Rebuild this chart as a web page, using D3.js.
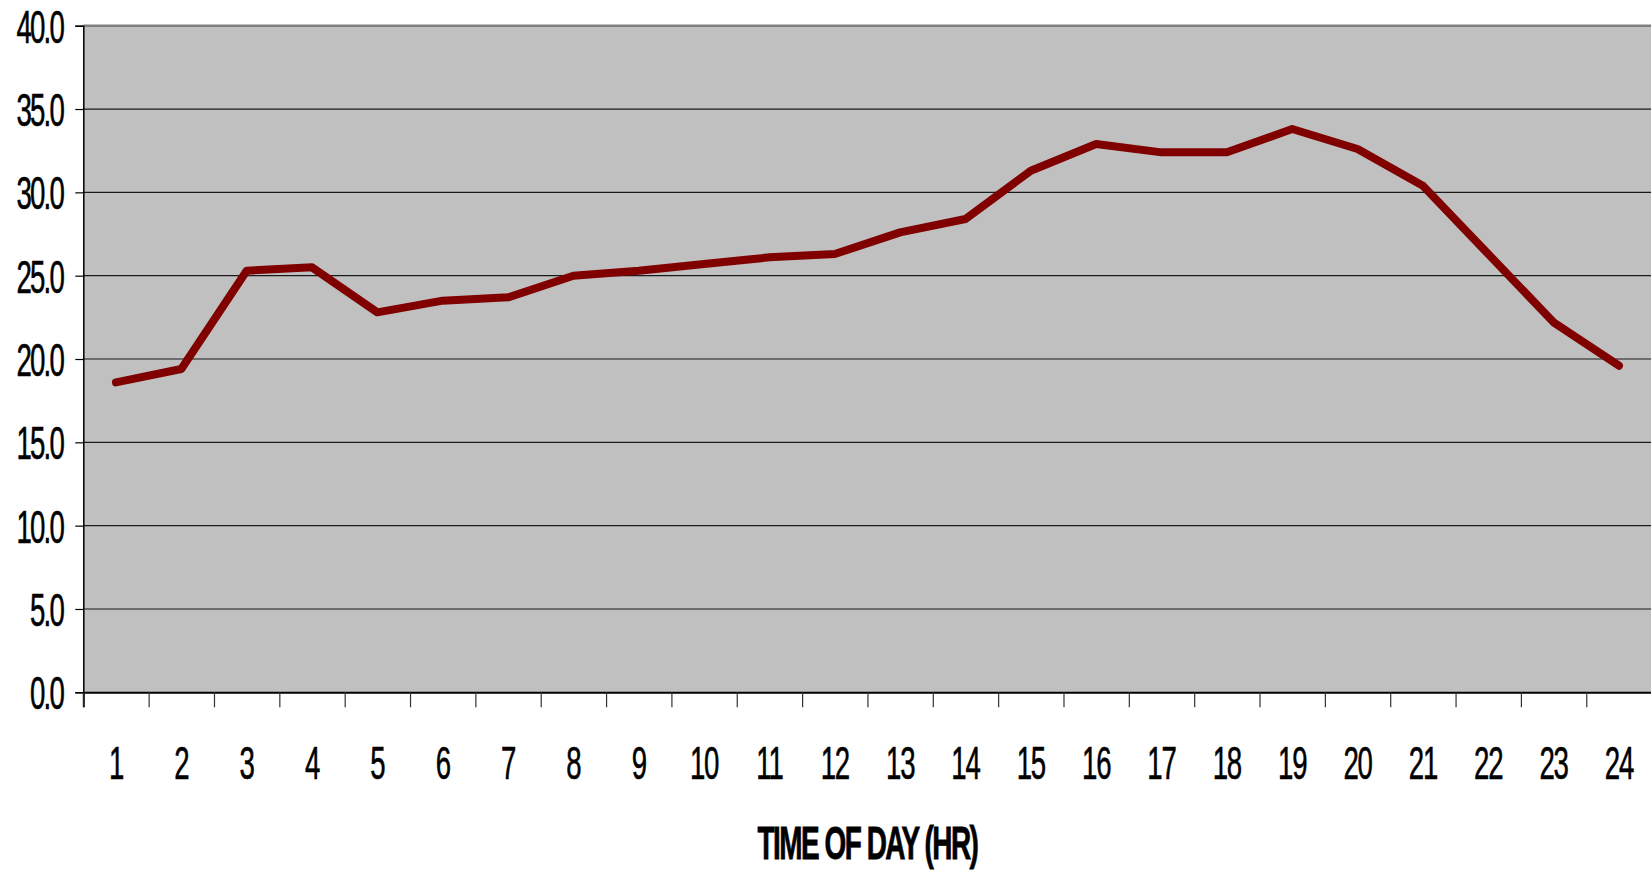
<!DOCTYPE html>
<html>
<head>
<meta charset="utf-8">
<script src="https://cdn.jsdelivr.net/npm/d3@7"></script>
<style>
  html, body { margin: 0; padding: 0; background: #fff; }
  svg { display: block; }
  text { font-family: "Liberation Sans", Arial, sans-serif; fill: #000; }
</style>
</head>
<body>
<svg id="chart" width="1651" height="870"></svg>
<script>
const hours = [1,2,3,4,5,6,7,8,9,10,11,12,13,14,15,16,17,18,19,20,21,22,23,24];
const values = [18.6,19.4,25.3,25.5,22.8,23.5,23.7,25.0,25.3,25.7,26.1,26.3,27.6,28.4,31.3,32.9,32.4,32.4,33.8,32.6,30.4,26.3,22.2,19.6];
const yTicks = [0,5,10,15,20,25,30,35,40];
const xTitle = "TIME OF DAY (HR)";

const svg = d3.select("#chart");
const plotLeft = 83.3, plotRight = 1651.6, plotTop = 25.7, plotBottom = 692.3;

const x = d3.scaleBand().domain(hours).range([plotLeft, plotRight]).padding(0);
const xb = d3.scaleLinear().domain([0, hours.length]).range([plotLeft, plotRight]);
const y = d3.scaleLinear().domain([0, 40]).range([plotBottom, plotTop]);

// plot background
svg.append("rect")
  .attr("x", plotLeft).attr("y", plotTop)
  .attr("width", plotRight - plotLeft).attr("height", plotBottom - plotTop)
  .attr("fill", "#c0c0c0");

// gridlines
svg.append("g").selectAll("line")
  .data(yTicks.filter(d => d > 0 && d < 40))
  .join("line")
  .attr("x1", plotLeft).attr("x2", plotRight)
  .attr("y1", d => y(d)).attr("y2", d => y(d))
  .attr("stroke", "#1a1a1a").attr("stroke-width", 1.2);

// top border
svg.append("line")
  .attr("x1", plotLeft).attr("x2", plotRight)
  .attr("y1", y(40)).attr("y2", y(40))
  .attr("stroke", "#808080").attr("stroke-width", 2.5);

// y axis
const yAxis = svg.append("g")
  .attr("transform", `translate(${plotLeft},0)`)
  .call(d3.axisLeft(y).tickValues(yTicks).tickSize(8).tickFormat(d3.format(".1f")));
yAxis.attr("font-family", null).attr("font-size", null);
yAxis.select(".domain").attr("stroke", "#000").attr("stroke-width", 1.5);
yAxis.selectAll(".tick line").attr("stroke", "#000").attr("stroke-width", 1.2);
yAxis.selectAll(".tick text")
  .attr("x", 0).attr("dy", null).attr("y", 0)
  .attr("text-anchor", "end")
  .attr("font-size", 46)
  .attr("letter-spacing", -3)
  .attr("stroke", "#000").attr("stroke-width", 0.6)
  .attr("transform", "translate(-20.3,16.5) scale(0.6,1)");

// x axis boundary ticks
const xTickAxis = svg.append("g")
  .attr("transform", `translate(0,${plotBottom})`)
  .call(d3.axisBottom(xb).tickValues(d3.range(0, hours.length + 1)).tickSize(15).tickFormat(""));
xTickAxis.select(".domain").attr("stroke", "#000").attr("stroke-width", 2);
xTickAxis.selectAll(".tick line").attr("stroke", "#333").attr("stroke-width", 1.2);

// x labels
const xAxis = svg.append("g")
  .attr("transform", `translate(0,${plotBottom})`)
  .call(d3.axisBottom(x).tickSize(0));
xAxis.attr("font-family", null).attr("font-size", null);
xAxis.select(".domain").remove();
xAxis.selectAll(".tick text")
  .attr("y", 0).attr("dy", null)
  .attr("text-anchor", "middle")
  .attr("font-size", 46)
  .attr("letter-spacing", -2)
  .attr("stroke", "#000").attr("stroke-width", 0.6)
  .attr("transform", "translate(0,87) scale(0.6,1)");

// line
const line = d3.line()
  .x((d, i) => x(hours[i]) + x.bandwidth() / 2)
  .y(d => y(d));
svg.append("path")
  .datum(values)
  .attr("d", line)
  .attr("fill", "none")
  .attr("stroke", "#800000")
  .attr("stroke-width", 8)
  .attr("stroke-linejoin", "round")
  .attr("stroke-linecap", "round");

// x title
svg.append("text")
  .attr("x", (plotLeft + plotRight) / 2)
  .attr("y", 859)
  .attr("text-anchor", "middle")
  .attr("font-size", 47)
  .attr("font-weight", "bold")
  .attr("letter-spacing", -2.5)
  .attr("stroke", "#000").attr("stroke-width", 0.8)
  .attr("textLength", 220)
  .attr("lengthAdjust", "spacingAndGlyphs")
  .text(xTitle);
</script>
</body>
</html>
